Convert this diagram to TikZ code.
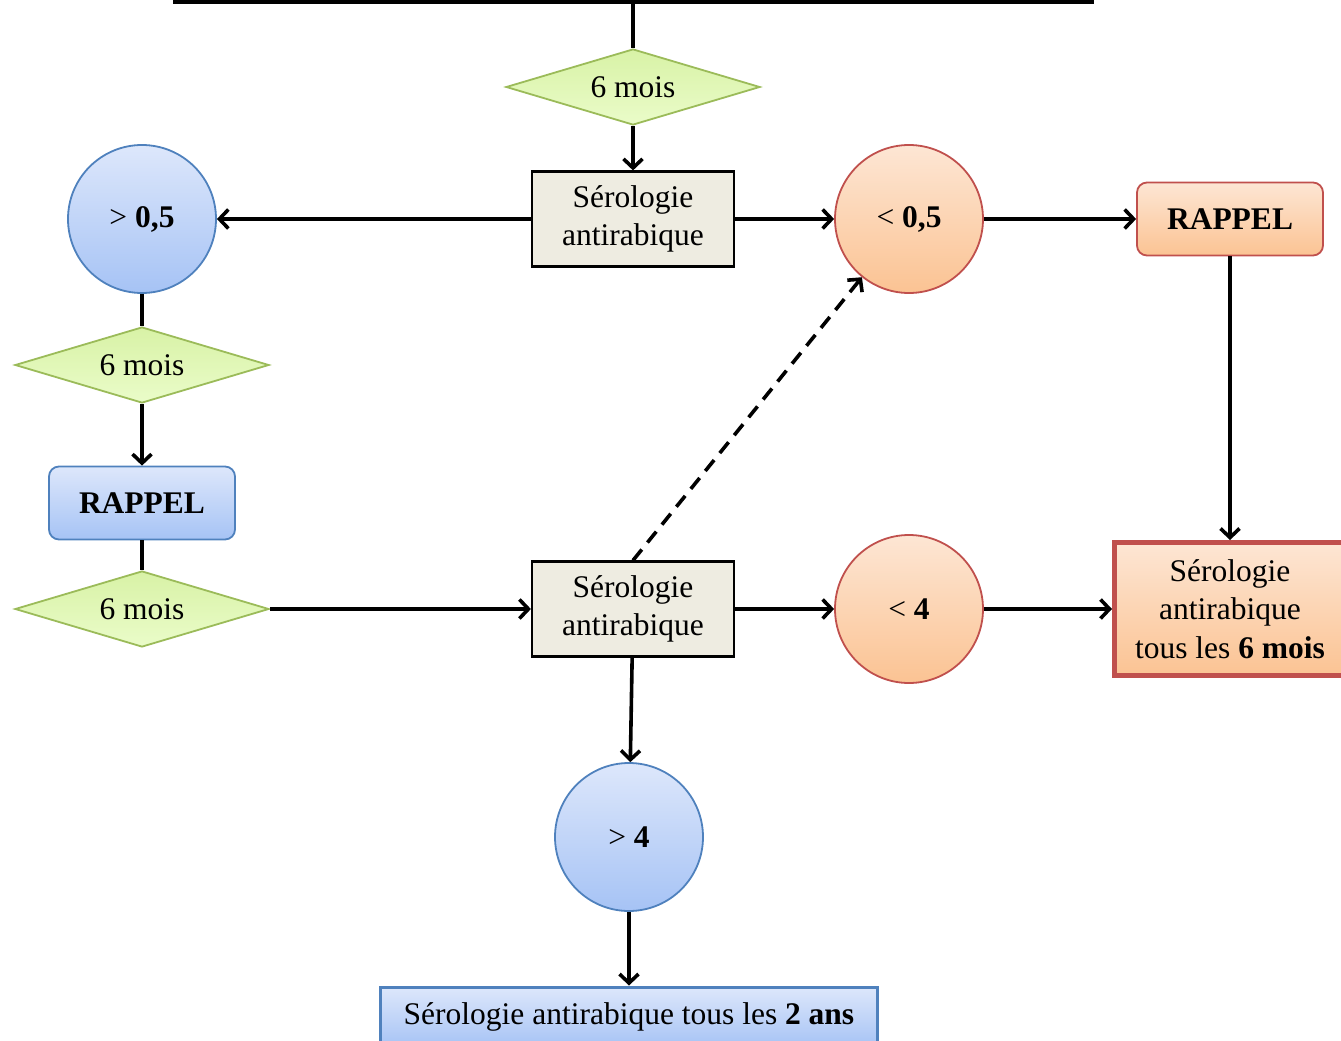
\documentclass[tikz,border=0pt]{standalone}
\usepackage{fontspec}
\setmainfont{Liberation Serif}
\usetikzlibrary{positioning,shapes.geometric,arrows.meta}

\definecolor{bleubord}{HTML}{4F81BD}
\definecolor{bleuhaut}{HTML}{DDE7FB}
\definecolor{bleubas}{HTML}{A6C3F5}
\definecolor{orangebord}{HTML}{C0504D}
\definecolor{orangehaut}{HTML}{FDE6D4}
\definecolor{orangebas}{HTML}{FBC393}
\definecolor{vertbord}{HTML}{9BBB59}
\definecolor{verthaut}{HTML}{D8F2A6}
\definecolor{vertbas}{HTML}{EAFCC9}
\definecolor{beige}{HTML}{EEECE1}

\begin{document}
\begin{tikzpicture}[x=1pt, y=1pt, font=\fontsize{31.5}{38.5}\selectfont]
    \tikzstyle{delai}=[diamond, draw=vertbord, line width=1.8pt, top color=verthaut, bottom color=vertbas, minimum width=254pt, minimum height=76pt, aspect=3.3, inner sep=0pt]
    \tikzstyle{test}=[rectangle, draw=black, line width=2.2pt, fill=beige, minimum width=202pt, minimum height=95pt, align=center, inner sep=0pt]
    \tikzstyle{rondbleu}=[circle, draw=bleubord, line width=1.8pt, top color=bleuhaut, bottom color=bleubas, minimum size=148pt, inner sep=0pt]
    \tikzstyle{rondorange}=[circle, draw=orangebord, line width=1.8pt, top color=orangehaut, bottom color=orangebas, minimum size=148pt, inner sep=0pt]
    \tikzstyle{rappel}=[rectangle, rounded corners=10pt, line width=1.8pt, minimum width=186pt, minimum height=73pt, font=\fontsize{31.5}{38.5}\selectfont\bfseries]
    \tikzstyle{arrow}=[-{Straight Barb[length=9pt,width=19pt]}, line width=3.6pt]
    \tikzstyle{ligne}=[line width=3.6pt]

    \useasboundingbox (0,0) rectangle (1341,-1041);
    \clip (0,0) rectangle (1341,-1041);

    % Premiere serologie
    \node[test] (sero1) at (633,-219) {Sérologie\\antirabique};
    \node[delai] (d1) [above of=sero1, node distance=132pt] {6 mois};
    \node[draw=black, fill=white, line width=5pt, minimum width=916pt, minimum height=55pt] (cadre) [above of=d1, node distance=113pt] {};

    % Resultats
    \node[rondbleu] (gt05) [left of=sero1, node distance=491pt] {> \textbf{0,5}};
    \node[rondorange] (lt05) [right of=sero1, node distance=276pt] {< \textbf{0,5}};
    \node[rappel, draw=orangebord, top color=orangehaut, bottom color=orangebas] (rap1) [right of=lt05, node distance=321pt] {RAPPEL};

    % Branche gauche
    \node[delai] (d2) [below of=gt05, node distance=146pt] {6 mois};
    \node[rappel, draw=bleubord, top color=bleuhaut, bottom color=bleubas] (rap2) [below of=d2, node distance=138pt] {RAPPEL};
    \node[delai] (d3) [below of=rap2, node distance=106pt] {6 mois};

    % Deuxieme serologie
    \node[test] (sero2) [below of=sero1, node distance=390pt] {Sérologie\\antirabique};
    \node[rondorange] (lt4) [right of=sero2, node distance=276pt] {< \textbf{4}};
    \node[rectangle, draw=orangebord, line width=5pt, top color=orangehaut, bottom color=orangebas, minimum width=231pt, minimum height=133pt, align=center, inner sep=0pt] (serie6) [right of=lt4, node distance=321pt] {Sérologie\\antirabique\\tous les \textbf{6 mois}};
    \node[rondbleu] (gt4) [below of=sero2, node distance=228pt, xshift=-4pt] {> \textbf{4}};
    \node[rectangle, draw=bleubord, line width=3pt, top color=bleuhaut, bottom color=bleubas, minimum width=497pt, minimum height=60pt, inner sep=0pt] (bilan) [below of=gt4, node distance=180pt] {Sérologie antirabique tous les \textbf{2 ans}};

    % Arrows
    \draw[ligne] (cadre) -- (d1);
    \draw[arrow] (d1) -- (sero1);
    \draw[arrow] (sero1) -- (gt05);
    \draw[arrow] (sero1) -- (lt05);
    \draw[arrow] (lt05) -- (rap1);
    \draw[arrow] (rap1) -- (serie6);
    \draw[ligne] (gt05) -- (d2);
    \draw[arrow] (d2) -- (rap2);
    \draw[ligne] (rap2) -- (d3);
    \draw[arrow] (d3) -- (sero2);
    \draw[arrow] (sero2) -- (lt4);
    \draw[arrow] (lt4) -- (serie6);
    \draw[arrow, dash pattern=on 14pt off 9pt] (sero2.north) -- (lt05);
    \draw[arrow] (sero2) -- (gt4);
    \draw[arrow] (gt4) -- (bilan);
\end{tikzpicture}
\end{document}
